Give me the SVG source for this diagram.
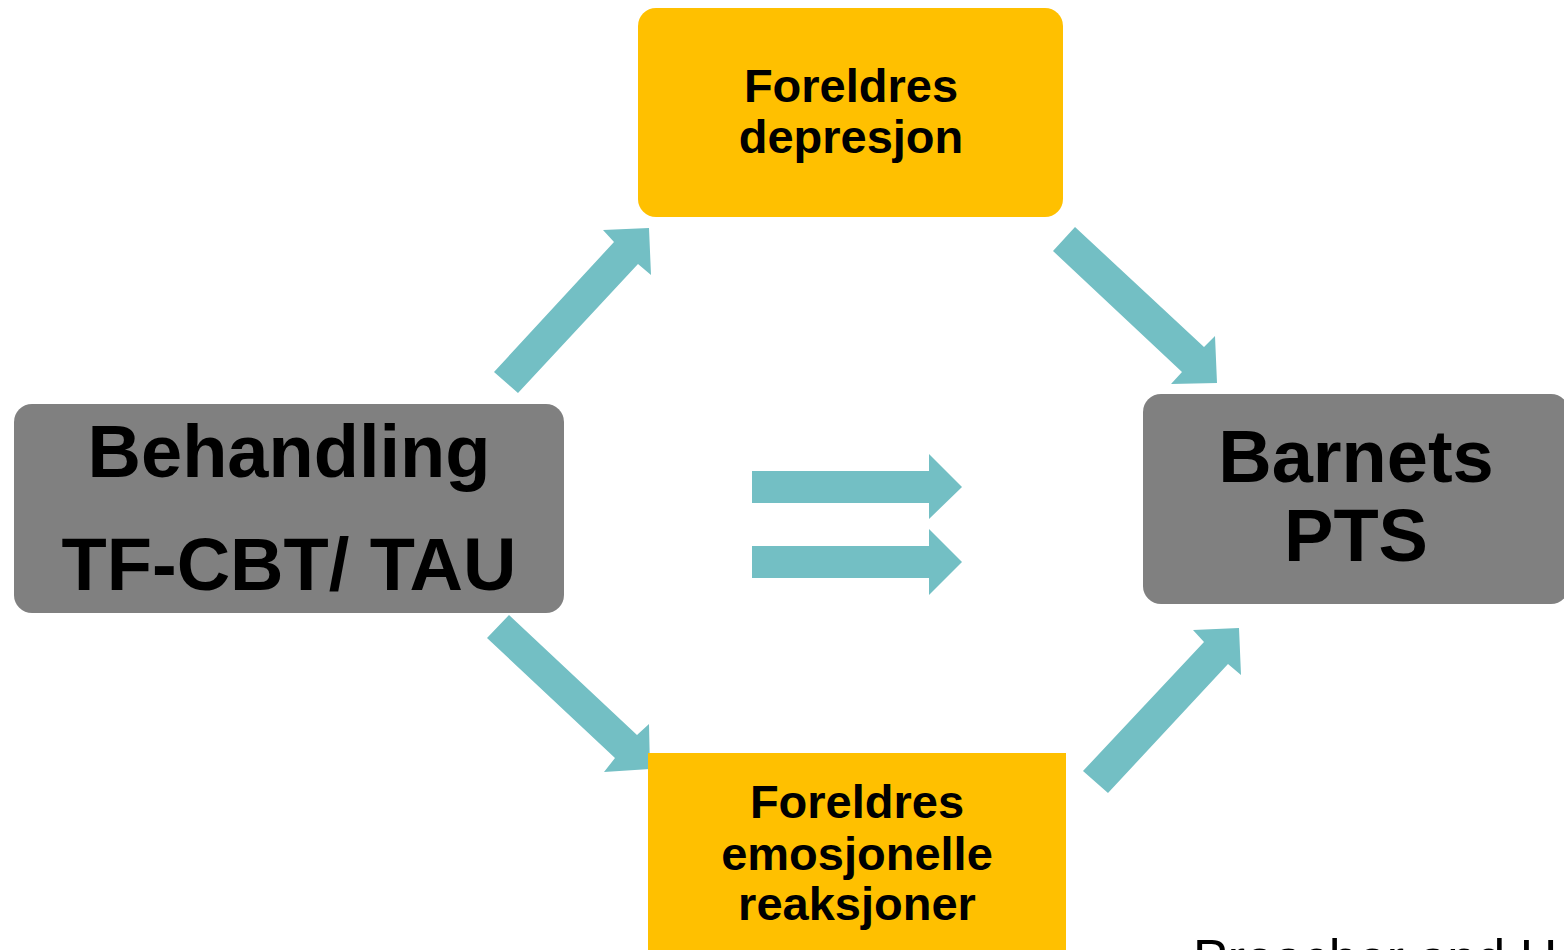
<svg xmlns="http://www.w3.org/2000/svg" width="1564" height="950" viewBox="0 0 1564 950">
<style>
.gray{fill:#808080}
.yel{fill:#FFC000}
.arr{fill:#73BFC4}
.t{font-family:"Liberation Sans",Arial,sans-serif;font-weight:bold;fill:#000;text-anchor:middle}
.big{font-size:74px}
.mid{font-size:47px}
.ref{font-family:"Liberation Sans",Arial,sans-serif;font-size:52px;fill:#000}
</style>
<rect width="1564" height="950" fill="#fff"/>
<g id="connectors">
<polygon class="arr" points="494,372 518,393 638,264 651,275 649,228 603,230 614,242"/>
<polygon class="arr" points="1075,227 1053,251 1182,372 1171,384 1217,383 1215,336 1204,347"/>
<polygon class="arr" points="509,615 487,638 615,758 604,772 650,769 649,724 637,735"/>
<polygon class="arr" points="1083,771 1108,793 1228,664 1241,675 1239,628 1193,630 1204,642"/>
<polygon class="arr" points="752,471 929,471 929,454 962,487 929,519 929,503 752,503"/>
<polygon class="arr" points="752,546 929,546 929,529 962,562 929,595 929,578 752,578"/>
</g>
<g id="node-depresjon">
<rect class="yel" x="638" y="8" width="425" height="209" rx="18"/>
<text class="t mid" x="851" y="102">Foreldres</text>
<text class="t mid" x="851" y="153">depresjon</text>
</g>
<g id="node-behandling">
<rect class="gray" x="14" y="404" width="550" height="209" rx="18"/>
<text class="t big" x="289" y="477">Behandling</text>
<text class="t big" x="289" y="590">TF-CBT/ TAU</text>
</g>
<g id="node-barnets">
<rect class="gray" x="1143" y="394" width="426" height="210" rx="18"/>
<text class="t big" x="1356" y="482">Barnets</text>
<text class="t big" x="1356" y="561">PTS</text>
</g>
<g id="node-emosjonelle">
<rect class="yel" x="648" y="753" width="418" height="210"/>
<text class="t mid" x="857" y="818">Foreldres</text>
<text class="t mid" x="857" y="870">emosjonelle</text>
<text class="t mid" x="857" y="920">reaksjoner</text>
</g>
<text class="ref" x="1193" y="976">Preacher and Hayes</text>
</svg>
